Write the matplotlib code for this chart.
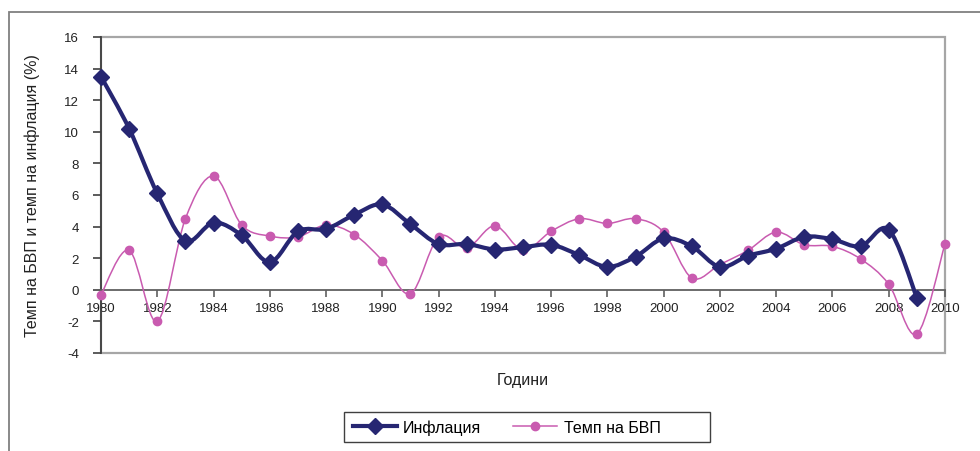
import matplotlib
matplotlib.use("Agg")
import matplotlib.pyplot as plt
from matplotlib.path import Path
from matplotlib.patches import PathPatch, Rectangle
from matplotlib.lines import Line2D
import numpy as np

plt.rcParams['font.family'] = ['Liberation Sans', 'DejaVu Sans']
plt.rcParams['axes.unicode_minus'] = False

years_infl = list(range(1980, 2010))
inflation = [13.5, 10.2, 6.1, 3.1, 4.25, 3.45, 1.75, 3.7, 3.85, 4.75,
             5.4, 4.15, 2.9, 2.9, 2.55, 2.7, 2.85, 2.2, 1.45, 2.1,
             3.25, 2.75, 1.45, 2.15, 2.6, 3.35, 3.2, 2.75, 3.8, -0.5]
years_gdp = list(range(1980, 2011))
gdp = [-0.3, 2.5, -2.0, 4.5, 7.2, 4.1, 3.4, 3.35, 4.1, 3.5,
       1.85, -0.25, 3.35, 2.65, 4.05, 2.5, 3.7, 4.5, 4.2, 4.5,
       3.65, 0.75, 1.6, 2.5, 3.65, 2.85, 2.75, 1.95, 0.35, -2.8, 2.9]

label_infl = 'Инфлация'
label_gdp = 'Темп на БВП'
xlabel = 'Години'
ylabel = 'Темп на БВП и темп на инфлация (%)'
yticks = list(range(-4, 17, 2))
xticks = list(range(1980, 2011, 2))

c_infl = '#262672'
c_gdp = '#C95BB0'


def smooth_path(xs, ys):
    pts = np.column_stack([xs, ys]).astype(float)
    n = len(pts)
    verts = [pts[0]]
    codes = [Path.MOVETO]
    for i in range(n - 1):
        p0 = pts[i - 1] if i > 0 else pts[i]
        p1 = pts[i]
        p2 = pts[i + 1]
        p3 = pts[i + 2] if i + 2 < n else pts[i + 1]
        c1 = p1 + (p2 - p0) / 6.0
        c2 = p2 - (p3 - p1) / 6.0
        verts += [c1, c2, p2]
        codes += [Path.CURVE4] * 3
    return Path(verts, codes)


fig = plt.figure(figsize=(9.8, 4.52), dpi=100)
W, H = 980, 452
# outer frame
fig.add_artist(Rectangle((8.5 / W, -0.1), 1.2, 1 - 13 / H + 0.1, transform=fig.transFigure,
                         fill=False, edgecolor='#808080', linewidth=1.3))

ax = fig.add_axes([101 / W, 1 - 354 / H, (945 - 101) / W, (354 - 38) / H])
ax.set_xlim(1980, 2010)
ax.set_ylim(-4, 16)

# plot-area border
ax.add_patch(Rectangle((0, 0), 1, 1, transform=ax.transAxes, fill=False,
                       edgecolor='#A6A6A6', linewidth=1.6, zorder=0.5, clip_on=False))

for s in ['top', 'right']:
    ax.spines[s].set_visible(False)
ax.spines['left'].set_color('#404040')
ax.spines['left'].set_linewidth(1.3)
ax.spines['bottom'].set_position(('data', 0))
ax.spines['bottom'].set_color('#606060')
ax.spines['bottom'].set_linewidth(1.3)

ax.set_yticks(yticks)
ax.set_xticks(xticks)
ax.tick_params(axis='y', direction='out', length=6, width=1.2, color='#404040',
               labelsize=9.5, labelcolor='#222222', pad=10)
ax.tick_params(axis='x', direction='out', length=5, width=1.2, color='#606060',
               labelsize=9.5, labelcolor='#222222', pad=4)

# smoothed lines
ax.add_patch(PathPatch(smooth_path(years_gdp, gdp), fill=False, edgecolor=c_gdp,
                       linewidth=1.1, zorder=3, clip_on=False))
ax.plot(years_gdp, gdp, linestyle='none', marker='o', markersize=6, color=c_gdp,
        zorder=4, clip_on=False)
ax.add_patch(PathPatch(smooth_path(years_infl, inflation), fill=False, edgecolor=c_infl,
                       linewidth=3.0, zorder=5, clip_on=False))
ax.plot(years_infl, inflation, linestyle='none', marker='D', markersize=8, color=c_infl,
        zorder=6, clip_on=False)

ax.set_xlabel(xlabel, fontsize=11.5, color='#222222')
ax.xaxis.set_label_coords(0.5, (354 - 381) / 316)
ax.xaxis.label.set_va('center')
ax.set_ylabel(ylabel, fontsize=11.5, color='#222222')
ax.yaxis.set_label_coords((32 - 101) / 844, 0.5)
ax.yaxis.label.set_va('center')

# legend
fig.add_artist(Rectangle((344 / W, 1 - 443 / H), (710 - 344) / W, 30 / H,
                         transform=fig.transFigure, fill=False,
                         edgecolor='#404040', linewidth=1.0))
handles = [Line2D([], [], color=c_infl, linewidth=3.0, marker='D', markersize=8),
           Line2D([], [], color=c_gdp, linewidth=1.1, marker='o', markersize=6)]
leg = fig.legend(handles, [label_infl, label_gdp], loc='center left',
                 bbox_to_anchor=(353 / W, 1 - 428 / H), ncol=2, frameon=False,
                 fontsize=11.5, handlelength=2.74, handletextpad=0.4,
                 columnspacing=2.0, borderpad=0, borderaxespad=0)

fig.savefig('out.png', dpi=100, facecolor='white')
